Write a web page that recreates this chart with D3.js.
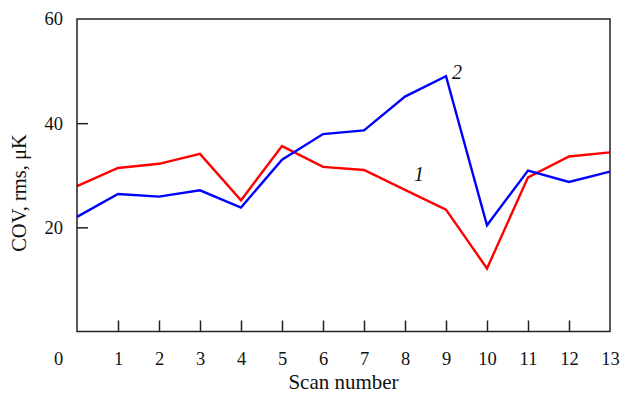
<!DOCTYPE html>
<html>
<head>
<meta charset="utf-8">
<script src="https://cdn.jsdelivr.net/npm/d3@7"></script>
<style>
  body { margin: 0; background: #fff; }
  text { font-family: "Liberation Serif", "Times New Roman", serif; fill: #111; }
</style>
</head>
<body>
<div id="chart"></div>
<script>
// scan numbers and the two curves (COV, rms, uK)
var scans = [0, 1, 2, 3, 4, 5, 6, 7, 8, 9, 10, 11, 12, 13];
var curve1 = [27.9, 31.4, 32.2, 34.1, 25.2, 35.6, 31.6, 31.0, 27.2, 23.4, 12.1, 29.6, 33.6, 34.4];
var curve2 = [22.0, 26.4, 25.9, 27.1, 23.8, 33.0, 37.9, 38.6, 45.1, 49.0, 20.4, 30.9, 28.7, 30.7];
var xTicks = [0, 1, 2, 3, 4, 5, 6, 7, 8, 9, 10, 11, 12, 13];
var yTicks = [20, 40, 60];

var margin = { top: 19, right: 11, bottom: 62.5, left: 77 },
    W = 621, H = 394,
    width = W - margin.left - margin.right,
    height = H - margin.top - margin.bottom;

var x = d3.scaleLinear().domain([0, 13]).range([0, width]);
var y = d3.scaleLinear().domain([0, 60]).range([height, 0]);

var svg = d3.select("#chart").append("svg")
    .attr("width", W)
    .attr("height", H);

var g = svg.append("g")
    .attr("transform", "translate(" + margin.left + "," + margin.top + ")");

var line = d3.line()
    .x(function (d, i) { return x(scans[i]); })
    .y(function (d) { return y(d); });

g.append("path")
    .datum(curve1)
    .attr("d", line)
    .attr("fill", "none")
    .attr("stroke", "#ff0000")
    .attr("stroke-width", 2.4)
    .attr("stroke-linejoin", "miter");

g.append("path")
    .datum(curve2)
    .attr("d", line)
    .attr("fill", "none")
    .attr("stroke", "#0000ff")
    .attr("stroke-width", 2.4)
    .attr("stroke-linejoin", "miter");

// frame
g.append("rect")
    .attr("width", width)
    .attr("height", height)
    .attr("fill", "none")
    .attr("stroke", "#222")
    .attr("stroke-width", 1.5);

// bottom axis, ticks pointing inward
var xAxis = d3.axisBottom(x)
    .tickValues(xTicks)
    .tickSize(-11)
    .tickPadding(20)
    .tickFormat(d3.format("d"));

var gx = g.append("g")
    .attr("transform", "translate(0," + height + ")")
    .call(xAxis);
gx.select(".domain").remove();
gx.selectAll(".tick line")
    .attr("stroke", "#222")
    .attr("stroke-width", 1.5)
    .filter(function (d) { return d === 0 || d === 13; }).remove();
gx.selectAll(".tick text")
    .attr("font-size", 18.5)
    .attr("font-family", "Liberation Serif")
    .attr("fill", "#111");
// origin label sits left of the corner
gx.selectAll(".tick").filter(function (d) { return d === 0; })
    .select("text").attr("x", -19);

// left axis, ticks pointing inward
var yAxis = d3.axisLeft(y)
    .tickValues(yTicks)
    .tickSize(-11)
    .tickPadding(14);

var gy = g.append("g").call(yAxis);
gy.select(".domain").remove();
gy.selectAll(".tick line")
    .attr("stroke", "#222")
    .attr("stroke-width", 1.5)
    .filter(function (d) { return d === 60; }).remove();
gy.selectAll(".tick text")
    .attr("font-size", 18.5)
    .attr("font-family", "Liberation Serif")
    .attr("fill", "#111");

// axis titles
svg.append("text")
    .attr("x", margin.left + width / 2)
    .attr("y", 389)
    .attr("text-anchor", "middle")
    .attr("font-size", 21)
    .text("Scan number");

svg.append("text")
    .attr("transform", "translate(26,193) rotate(-90)")
    .attr("text-anchor", "middle")
    .attr("font-size", 20.5)
    .text("COV, rms, μK");

// curve labels
g.append("text")
    .attr("x", x(8) + 9)
    .attr("y", y(curve1[8]) - 9)
    .attr("font-size", 20)
    .attr("font-style", "italic")
    .text("1");

g.append("text")
    .attr("x", x(9) + 6)
    .attr("y", y(curve2[9]) + 3)
    .attr("font-size", 20)
    .attr("font-style", "italic")
    .text("2");
</script>
</body>
</html>
